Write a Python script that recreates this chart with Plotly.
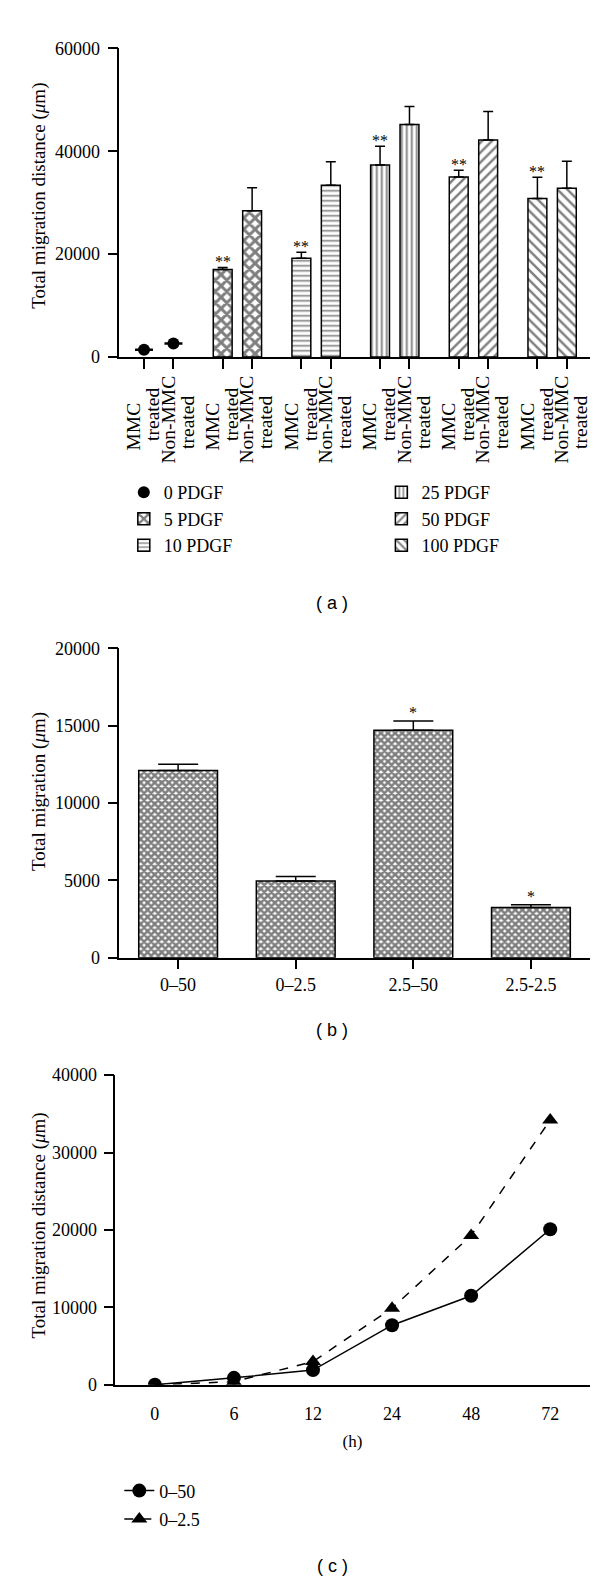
import plotly.graph_objects as go

# ---------------- data ----------------
# Panel (a)
pdgf_groups = ["0 PDGF", "5 PDGF", "10 PDGF", "25 PDGF", "50 PDGF", "100 PDGF"]
cond_line1 = ["MMC", "Non-MMC"]
cond_line2 = ["treated", "treated"]
mmc_mean = [1400, 17000, 19200, 37300, 35000, 30800]
mmc_err = [100, 400, 1150, 3650, 1300, 4150]
non_mean = [2600, 28400, 33400, 45200, 42200, 32800]
non_err = [100, 4500, 4550, 3500, 5500, 5250]
mmc_signif = ["", "**", "**", "**", "**", "**"]
a_yticks = [0, 20000, 40000, 60000]

# Panel (b)
b_cats = ["0\u201350", "0\u20132.5", "2.5\u201350", "2.5-2.5"]
b_vals = [12100, 4950, 14700, 3250]
b_err = [400, 300, 600, 170]
b_signif = ["", "", "*", "*"]
b_yticks = [0, 5000, 10000, 15000, 20000]

# Panel (c)
c_hours = ["0", "6", "12", "24", "48", "72"]
c_050 = [0, 900, 1900, 7700, 11500, 20100]
c_025 = [0, 400, 3000, 9900, 19300, 34200]
c_yticks = [0, 10000, 20000, 30000, 40000]

# ---------------- style ----------------
SERIF = "Liberation Serif"
SANS = "Liberation Sans"
W, H = 600, 1582
pair_off = 0.187
bar_w = 0.24
a_range = [-0.501, 5.478]

patterns = {
    "5 PDGF": dict(shape="x", size=8, solidity=0.6),
    "10 PDGF": dict(shape="-", size=5, solidity=0.32),
    "25 PDGF": dict(shape="|", size=5, solidity=0.38),
    "50 PDGF": dict(shape="/", size=7, solidity=0.35),
    "100 PDGF": dict(shape="\\", size=7, solidity=0.35),
}
legend_of = {"0 PDGF": "legend", "5 PDGF": "legend", "10 PDGF": "legend",
             "25 PDGF": "legend2", "50 PDGF": "legend2", "100 PDGF": "legend2"}

fig = go.Figure()

# ---- panel (a) ----
mmc_pos = [g - pair_off for g in range(len(pdgf_groups))]
non_pos = [g + pair_off for g in range(len(pdgf_groups))]
for g, name in enumerate(pdgf_groups):
    xs = [mmc_pos[g], non_pos[g]]
    ys = [mmc_mean[g], non_mean[g]]
    es = [mmc_err[g], non_err[g]]
    if name == "0 PDGF":
        fig.add_trace(go.Scatter(
            x=xs, y=ys, mode="markers", name=name,
            marker=dict(symbol="circle", size=12, color="black"),
            error_y=dict(type="data", array=es, symmetric=True, color="black",
                         thickness=1.5, width=9),
            xaxis="x", yaxis="y", legend=legend_of[name], legendgroup=name))
    else:
        fig.add_trace(go.Bar(
            x=xs, y=ys, width=bar_w, name=name,
            marker=dict(color="white", line=dict(color="black", width=1.5),
                        pattern=dict(fgcolor="black", bgcolor="white", **patterns[name])),
            error_y=dict(type="data", array=es, arrayminus=[0, 0], symmetric=False,
                         color="black", thickness=1.5, width=5),
            xaxis="x", yaxis="y", legend=legend_of[name], legendgroup=name))
    if mmc_signif[g]:
        fig.add_annotation(x=mmc_pos[g], y=mmc_mean[g] + mmc_err[g], xref="x", yref="y",
                           text=mmc_signif[g], showarrow=False, yanchor="bottom", yshift=-5,
                           font=dict(family=SERIF, size=16, color="black"))

# empty traces so that the label-only overlay axes get drawn
for ax_name in ["x4", "x5", "x6", "x7"]:
    fig.add_trace(go.Scatter(x=[None], y=[None], mode="markers", showlegend=False,
                             hoverinfo="skip", xaxis=ax_name, yaxis="y"))

# ---- panel (b) ----
fig.add_trace(go.Bar(
    x=b_cats, y=b_vals, width=0.67, showlegend=False,
    marker=dict(color="white", line=dict(color="black", width=1.5),
                pattern=dict(shape="x", size=5, solidity=0.75, fgcolor="black", bgcolor="white")),
    error_y=dict(type="data", array=b_err, arrayminus=[0] * len(b_err), symmetric=False,
                 color="black", thickness=1.5, width=20),
    xaxis="x2", yaxis="y2"))
for cat, v, e, s in zip(b_cats, b_vals, b_err, b_signif):
    if s:
        fig.add_annotation(x=cat, y=v + e, xref="x2", yref="y2", text=s, showarrow=False,
                           yanchor="bottom", yshift=-2,
                           font=dict(family=SERIF, size=16, color="black"))

# ---- panel (c) ----
fig.add_trace(go.Scatter(
    x=c_hours, y=c_050, mode="lines+markers", name="0\u201350",
    line=dict(color="black", width=1.5),
    marker=dict(symbol="circle", size=14, color="black"),
    xaxis="x3", yaxis="y3", legend="legend3", legendgroup="c1"))
fig.add_trace(go.Scatter(
    x=c_hours, y=c_025, mode="lines+markers", name="0\u20132.5",
    line=dict(color="black", width=1.5, dash="dash"),
    marker=dict(symbol="triangle-up", size=14, color="black"),
    xaxis="x3", yaxis="y3", legend="legend3", legendgroup="c2"))

# ---------------- layout ----------------
def px_x(p):
    return p / W

def px_y(p):
    return 1 - p / H

axis_common = dict(showline=True, linecolor="black", linewidth=1.5, showgrid=False,
                   zeroline=False, tickcolor="black", tickwidth=1.5,
                   tickfont=dict(family=SERIF, size=18, color="black"))

label_font = dict(family=SERIF, size=19.5, color="black")

def label_axis(tickvals, texts, shift, standoff):
    return dict(overlaying="x", anchor="y", range=a_range, showline=False, showgrid=False,
                zeroline=False, ticks="", tickmode="array", tickvals=tickvals,
                ticktext=texts, tickangle=-90, tickfont=label_font,
                ticklabelshift=shift, ticklabelstandoff=standoff)

fig.update_layout(
    width=W, height=H, margin=dict(l=0, r=0, t=0, b=0),
    paper_bgcolor="white", plot_bgcolor="white",
    font=dict(family=SERIF, color="black"),
    barmode="overlay",
    xaxis=dict(**axis_common, domain=[px_x(111.5), px_x(582.7)], range=a_range,
               tickmode="array", tickvals=mmc_pos + non_pos, showticklabels=False,
               ticks="outside", ticklen=10, anchor="y"),
    xaxis4=label_axis(mmc_pos, [cond_line1[0]] * len(mmc_pos), -10, 41),
    xaxis5=label_axis(mmc_pos, [cond_line2[0]] * len(mmc_pos), 9, 26),
    xaxis6=label_axis(non_pos, [cond_line1[1]] * len(non_pos), -5, 14),
    xaxis7=label_axis(non_pos, [cond_line2[1]] * len(non_pos), 14, 34),
    yaxis=dict(**axis_common, domain=[px_y(343.3), px_y(30.7)], range=[0, 60000],
               tickmode="array", tickvals=a_yticks, tickformat="d", ticks="outside",
               ticklen=10, ticklabelstandoff=4, anchor="x"),
    xaxis2=dict(**axis_common, domain=[px_x(111.5), px_x(582.7)], range=[-0.5, 3.5],
                type="category", ticks="outside", ticklen=10, anchor="y2"),
    yaxis2=dict(**axis_common, domain=[px_y(951.7), px_y(638.3)], range=[0, 20000],
                tickmode="array", tickvals=b_yticks, tickformat="d", ticks="outside",
                ticklen=10, ticklabelstandoff=4, anchor="x2"),
    xaxis3=dict(**axis_common, domain=[px_x(107.5), px_x(582.7)], range=[-0.5, 5.5],
                type="category", ticks="", ticklabelstandoff=12, anchor="y3",
                title=dict(text="(h)", font=dict(family=SERIF, size=17), standoff=12)),
    yaxis3=dict(**axis_common, domain=[px_y(1384.3), px_y(1070.7)], range=[0, 40000],
                tickmode="array", tickvals=c_yticks, tickformat="d", ticks="outside",
                ticklen=10, ticklabelstandoff=3, anchor="x3"),
    legend=dict(x=px_x(116), y=px_y(462), xanchor="left", yanchor="top",
                font=dict(family=SERIF, size=18), bgcolor="rgba(0,0,0,0)",
                tracegroupgap=0, itemwidth=30),
    legend2=dict(x=px_x(374), y=px_y(462), xanchor="left", yanchor="top",
                 font=dict(family=SERIF, size=18), bgcolor="rgba(0,0,0,0)",
                 tracegroupgap=0, itemwidth=30),
    legend3=dict(x=px_x(111.5), y=px_y(1473), xanchor="left", yanchor="top",
                 font=dict(family=SERIF, size=18), bgcolor="rgba(0,0,0,0)",
                 tracegroupgap=2, itemwidth=30),
)

# axis titles (rotated) and panel labels
ytitles = [("Total migration distance (<i>\u03bc</i>m)", 180),
           ("Total migration (<i>\u03bc</i>m)", 783),
           ("Total migration distance (<i>\u03bc</i>m)", 1223)]
for txt, yc in ytitles:
    fig.add_annotation(x=px_x(31), y=px_y(yc), xref="paper", yref="paper", text=txt,
                       textangle=-90, showarrow=False, xanchor="center", yanchor="middle",
                       font=dict(family=SERIF, size=19, color="black"))
for txt, yc in [("( a )", 592), ("( b )", 1025), ("( c )", 1568)]:
    fig.add_annotation(x=px_x(325), y=px_y(yc), xref="paper", yref="paper", text=txt,
                       showarrow=False, xanchor="center", yanchor="middle",
                       font=dict(family=SANS, size=18, color="black"))

fig.write_html("out.html")
